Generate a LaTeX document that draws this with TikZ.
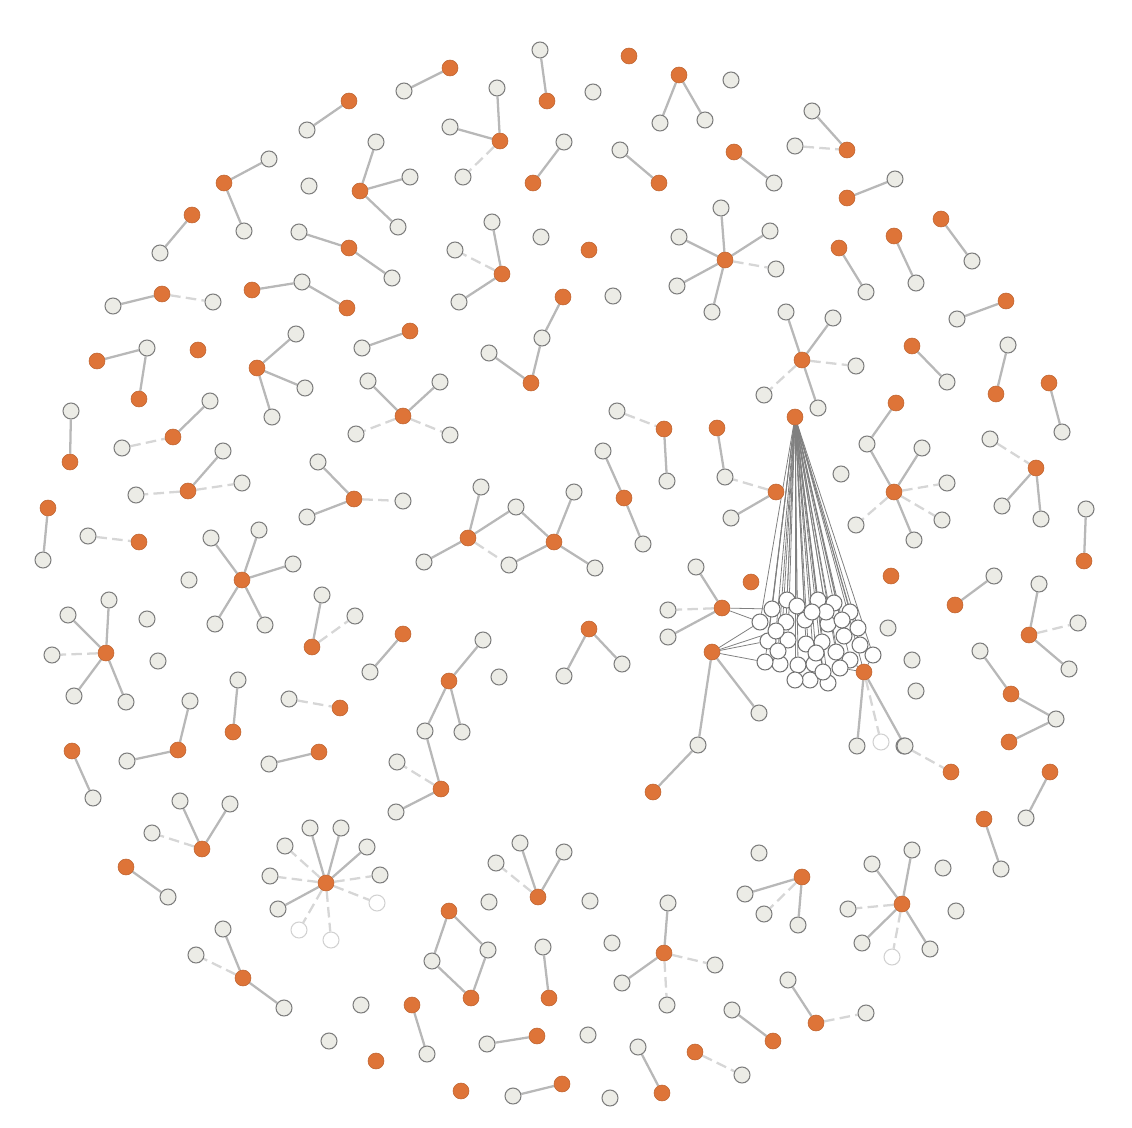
\documentclass[tikz,border=0pt]{standalone}
\usepackage{tikz}
\usepackage{xcolor}
\usetikzlibrary{backgrounds}
\definecolor{hotfill}{RGB}{222,116,56}
\definecolor{plainfill}{RGB}{236,236,230}
\definecolor{plainrim}{RGB}{125,125,125}
\definecolor{linkgray}{RGB}{184,184,184}
\definecolor{fadegray}{RGB}{214,214,214}

\begin{document}
\begin{tikzpicture}[x=0.02cm,y=-0.02cm]
        \tikzstyle{hotnode}=[circle,fill=hotfill,draw=hotfill!85!black,line width=0.3pt,
        inner sep=0pt,minimum size=0.32cm]
        \tikzstyle{plainnode}=[circle,fill=plainfill,draw=plainrim,line width=0.6pt,
        inner sep=0pt,minimum size=0.32cm]
        \tikzstyle{ghostnode}=[circle,fill=white,draw=black!18,line width=0.6pt,
        inner sep=0pt,minimum size=0.32cm]
        \tikzstyle{fannode}=[circle,fill=white,draw=black!55,line width=0.6pt,
        inner sep=0pt,minimum size=0.32cm]
        \tikzstyle{link}=[linkgray,line width=1.3pt]
        \tikzstyle{fadedlink}=[fadegray,line width=1.3pt,dash pattern=on 6pt off 3pt]
        \tikzstyle{fanlink}=[black!50,line width=0.45pt]
        \useasboundingbox (0,0) rectangle (1132,1128);
        % orange nodes
        \foreach \n/\x/\y in {a2/547/101, b1/629/56, c1/679/75, e1/450/68, f1/349/101, h1/500/141,
          i2/533/183, j2/659/183, k1/734/152, l2/847/150, m1/847/198, n1/941/219, p1/894/236,
          q1/839/248, r1/1006/301, s0/725/260, t0/502/274, u2/589/250, v1/563/297, v3/531/383,
          w1/410/331, x0/224/183, z0/360/191, aa1/192/215, ab2/349/248, ac2/162/294, ad1/252/290,
          ad3/347/308, ae1/97/361, ae3/139/399, af1/198/350, ag0/257/368, ah0/403/416, ai2/70/462,
          aj2/173/437, ak0/188/491, al0/354/499, am1/48/508, an2/139/542, ao0/242/580, ap0/106/653,
          aq0/312/647, ar1/403/634, as2/233/732, at2/178/750, au2/340/708, av1/72/751, aw2/319/752,
          ax0/202/849, ay1/126/867, az0/326/883, ba0/243/978, bb3/376/1061, bc0/449/681, bc4/441/789,
          bd1/653/792, bd3/712/652, be0/538/897, bf1/449/911, bf4/471/998, bg2/549/998, bi0/664/953,
          bj1/412/1005, bk2/537/1036, bm2/662/1093, bn1/695/1052, bo2/773/1041, bp1/461/1091,
          bq2/562/1084, bs0/802/877, bt0/902/904, bu2/816/1023, bv2/951/772, bw1/1050/772,
          bx1/984/819, by0/802/360, bz1/896/403, bz0/894/492, cb0/776/492, cb3/717/428,
          cc1/996/394, cd1/1049/383, ce1/912/346, cf0/1036/468, cg2/1084/561, ch1/891/576,
          ci2/955/605, cj0/1029/635, cl2/1011/694, cl4/1009/742, cm2/664/429, co2/624/498,
          cp1/468/538, cp6/554/542, cq0/589/629, hub/795/417, cs1/722/608, cs5/751/582, cs6/864/672}
          \node at (\x,\y) [hotnode] (\n) {};
        % grey nodes
        \foreach \n/\x/\y in {a1/540/50, b2/593/92, c2/660/123, c3/705/120, d1/731/80, e2/404/91,
          f2/307/130, h2/497/88, h3/450/127, h4/463/177, i1/564/142, j1/620/150, k2/774/183,
          l1/812/111, l3/795/146, m2/895/179, n2/972/261, p2/916/283, q2/866/292, r2/957/319,
          s1/721/208, s2/679/237, s3/677/286, s4/712/312, s5/770/231, s6/776/269, t1/492/222,
          t2/455/250, t3/459/302, u1/541/237, u3/613/296, v2/542/338, v4/489/353, w2/362/348,
          x1/269/159, x2/244/231, y1/309/186, z1/376/142, z2/410/177, z3/398/227, aa2/160/253,
          ab1/299/232, ab3/392/278, ac1/113/306, ac3/213/302, ad2/302/282, ae2/147/348,
          ag1/296/334, ag2/305/388, ag3/272/417, ah1/368/381, ah2/440/382, ah3/356/434,
          ah4/450/435, ai1/71/411, aj1/122/448, aj3/210/401, ak1/136/495, ak2/223/451,
          ak3/242/483, al1/318/462, al2/307/517, al3/403/501, am2/43/560, an1/88/536,
          ao1/211/538, ao2/259/530, ao3/293/564, ao4/215/624, ao5/265/625, ao6/189/580,
          ap1/68/615, ap2/109/600, ap3/52/655, ap4/74/696, ap5/126/702, ap6/147/619, ap7/158/661,
          aq1/322/595, aq2/355/616, ar2/370/672, as1/238/680, at1/190/701, at3/127/761,
          au1/289/699, av2/93/798, aw1/269/764, ax1/180/801, ax2/230/804, ax3/152/833,
          ay2/168/897, az1/310/828, az2/341/828, az3/285/846, az4/367/847, az5/270/876,
          az6/380/875, az7/278/909, ba1/223/929, ba2/196/955, ba3/284/1008, bb1/361/1005,
          bb2/329/1041, bc1/483/640, bc2/425/731, bc3/462/732, bc5/397/762, bc6/396/812,
          bd2/698/745, bd4/759/713, be1/520/843, be2/564/852, be3/496/863, be4/489/902,
          be5/590/901, bf2/432/961, bf3/488/950, bg1/543/947, bh1/612/943, bi1/668/903,
          bi2/715/965, bi3/622/983, bi4/667/1005, bj2/427/1054, bk1/487/1044, bl1/588/1035,
          bm1/638/1047, bn2/742/1075, bo1/732/1010, bq1/513/1096, br1/610/1098, bs1/759/853,
          bs2/745/894, bs3/764/914, bs4/798/925, bt1/912/850, bt2/872/864, bt3/943/868,
          bt4/848/909, bt5/956/911, bt6/862/943, bt8/930/949, bu1/788/980, bu3/866/1013,
          bv1/904/746, bw2/1026/818, bx2/1001/869, by1/786/312, by2/833/318, by3/856/366,
          by4/818/408, by5/764/395, bz2/867/444, bz3/922/448, bz4/947/483, bz5/942/520,
          bz6/914/540, bz7/856/525, ca1/841/474, cb1/725/477, cb2/731/518, cc2/1008/345,
          cd2/1062/432, ce2/947/382, cf1/990/439, cf2/1002/506, cf3/1041/519, cg1/1086/509,
          ci1/994/576, cj1/1039/584, cj2/1078/623, cj3/1069/669, ck1/888/628, ck2/912/660,
          ck3/916/691, cl1/980/651, cl3/1056/719, cm1/617/411, cm3/667/481, co1/603/451,
          co3/643/544, cp2/481/487, cp3/516/507, cp4/424/562, cp5/509/565, cp7/574/492,
          cp8/595/568, cq1/564/676, cq2/622/664, cr1/499/677, cs2/696/567, cs3/668/610,
          cs4/668/637, cs7/857/746, cs9/905/746}
          \node at (\x,\y) [plainnode] (\n) {};
        \foreach \n/\x/\y in {az8/377/903, az9/331/940, az10/299/930, bt7/892/957, cs8/881/742}
          \node at (\x,\y) [ghostnode] (\n) {};
        % the crowded bunch under the hub
        \foreach \n/\x/\y in {fan1/787/600, fan2/818/600, fan3/834/603, fan4/850/612, fan5/772/609,
          fan6/760/622, fan7/786/622, fan8/805/620, fan9/828/624, fan10/844/636, fan11/860/645,
          fan12/873/655, fan13/768/641, fan14/788/640, fan15/806/644, fan16/822/642, fan17/836/652,
          fan18/850/660, fan19/780/664, fan20/798/665, fan21/814/664, fan22/810/680, fan23/828/683,
          fan24/765/662, fan25/797/606, fan26/826/612, fan27/778/651, fan28/816/653, fan29/840/668,
          fan30/795/680, fan31/776/631, fan32/858/628, fan33/823/672, fan34/842/620, fan35/812/612}
          \node at (\x,\y) [fannode] (\n) {};
        \begin{scope}[on background layer]
        \foreach \a/\b in {a1/a2, c1/c2, c1/c3, e1/e2, f1/f2, h1/h2, h1/h3, i1/i2, j1/j2, k1/k2,
          l1/l2, m1/m2, n1/n2, p1/p2, q1/q2, r1/r2, s0/s1, s0/s2, s0/s3, s0/s4, s0/s5, t0/t1,
          t0/t3, v1/v2, v2/v3, v3/v4, w1/w2, x0/x1, x0/x2, z0/z1, z0/z2, z0/z3, aa1/aa2, ab1/ab2,
          ab2/ab3, ac1/ac2, ad1/ad2, ad2/ad3, ae1/ae2, ae2/ae3, ag0/ag1, ag0/ag2, ag0/ag3,
          ah0/ah1, ah0/ah2, ai1/ai2, aj2/aj3, ak0/ak2, al0/al1, al0/al2, am1/am2, ao0/ao1,
          ao0/ao2, ao0/ao3, ao0/ao4, ao0/ao5, ap0/ap1, ap0/ap2, ap0/ap4, ap0/ap5, aq0/aq1,
          ar1/ar2, as1/as2, at1/at2, at2/at3, av1/av2, aw1/aw2, ax0/ax1, ax0/ax2, ay1/ay2,
          az0/az1, az0/az2, az0/az4, az0/az7, ba0/ba1, ba0/ba3, bc1/bc0, bc0/bc2, bc0/bc3,
          bc2/bc4, bc4/bc6, bd1/bd2, bd2/bd3, bd3/bd4, be0/be1, be0/be2, bf1/bf2, bf1/bf3,
          bf3/bf4, bf2/bf4, bg1/bg2, bi0/bi1, bi0/bi3, bj1/bj2, bk1/bk2, bm1/bm2, bo1/bo2,
          bq1/bq2, bs0/bs2, bs0/bs4, bt0/bt1, bt0/bt2, bt0/bt6, bt0/bt8, bu1/bu2, bw1/bw2,
          bx1/bx2, by0/by1, by0/by2, by0/by4, bz1/bz2, bz2/bz0, bz0/bz3, bz0/bz6, cb0/cb2,
          cb3/cb1, cc1/cc2, cd1/cd2, ce1/ce2, cf0/cf2, cf0/cf3, cg1/cg2, ci1/ci2, cj0/cj1,
          cj0/cj3, cl1/cl2, cl2/cl3, cl3/cl4, cm2/cm3, co1/co2, co2/co3, cp1/cp2, cp1/cp3,
          cp1/cp4, cp6/cp3, cp6/cp7, cp6/cp8, cp6/cp5, cq0/cq1, cq0/cq2, cs1/cs2, cs1/cs4,
          cs6/cs7, cs6/cs9}
          \draw[link] (\a) -- (\b);
        \foreach \a/\b in {l3/l2, s0/s6, h1/h4, t0/t2, ac2/ac3, ah0/ah3, ah0/ah4, aj1/aj2,
          ak0/ak1, ak0/ak3, al0/al3, an1/an2, ap0/ap3, aq0/aq2, au1/au2, ax0/ax3, az0/az3,
          az0/az5, az0/az6, az0/az8, az0/az9, az0/az10, ba0/ba2, bc4/bc5, be0/be3, bi0/bi2,
          bi0/bi4, bn1/bn2, bs0/bs3, bt0/bt4, bt0/bt7, bu2/bu3, bv1/bv2, by0/by3, by0/by5,
          bz0/bz4, bz0/bz5, bz0/bz7, cb0/cb1, cf1/cf0, cj0/cj2, cm1/cm2, cp1/cp5, cs1/cs3,
          cs6/cs8}
          \draw[fadedlink] (\a) -- (\b);
        \foreach \b in {1,...,35}
          \draw[fanlink] (hub) -- (fan\b);
        \foreach \a/\b in {hub/cs6, cs1/fan5, cs1/fan6, bd3/fan6, bd3/fan13, bd3/fan24,
          bd3/fan31, cs6/fan12, cs6/fan18, cs6/fan29}
          \draw[fanlink] (\a) -- (\b);
        \end{scope}
      \end{tikzpicture}
\end{document}
